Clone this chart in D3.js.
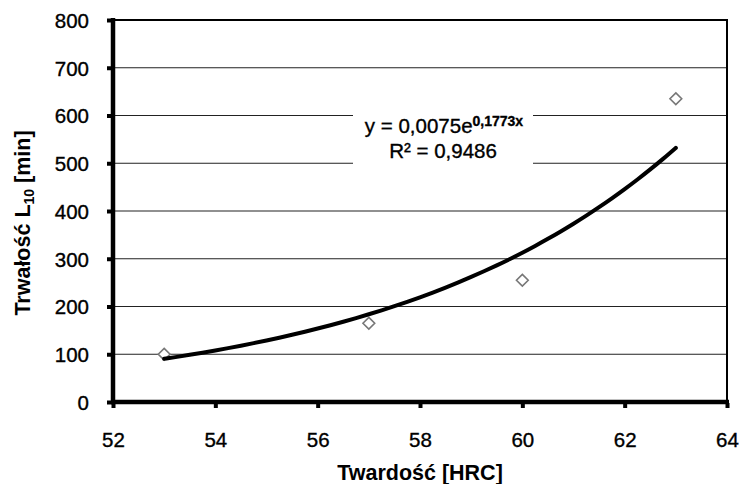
<!DOCTYPE html>
<html>
<head>
<meta charset="utf-8">
<script src="https://cdn.jsdelivr.net/npm/d3@7"></script>
<style>
  html, body { margin: 0; padding: 0; background: #fff; }
  text { font-family: "Liberation Sans", Arial, sans-serif; fill: #000; }
</style>
</head>
<body>
<div id="chart"></div>
<script>
const width = 739;
const height = 484;
const margin = { top: 20, right: 12, bottom: 82, left: 113 };

// measured points
const hardness = [53, 57, 60, 63];
const life = [100, 165, 255, 635];

// exponential trendline y = a * e^(b x)
const trendA = 0.0075;
const trendB = 0.1773;
const trendX = d3.range(53, 63.01, 0.25);

const xTicks = [52, 54, 56, 58, 60, 62, 64];
const yTicks = [0, 100, 200, 300, 400, 500, 600, 700, 800];

const labelSize = 20.5;

const x = d3.scaleLinear()
  .domain([52, 64])
  .range([margin.left, width - margin.right]);

const y = d3.scaleLinear()
  .domain([0, 800])
  .range([height - margin.bottom, margin.top]);

const svg = d3.select('#chart').append('svg')
  .attr('width', width)
  .attr('height', height);

// gridlines
svg.append('g')
  .selectAll('line')
  .data(yTicks.filter(d => d > 0 && d < 800))
  .enter()
  .append('line')
  .attr('x1', x(52))
  .attr('x2', x(64))
  .attr('y1', d => y(d))
  .attr('y2', d => y(d))
  .attr('stroke', '#222')
  .attr('stroke-width', 1.2);

// top and right border
svg.append('path')
  .attr('fill', 'none')
  .attr('stroke', '#000')
  .attr('stroke-width', 2)
  .attr('d', `M${x(52)},${y(800)}H${x(64)}V${y(0)}`);

// label box (white, hides gridlines)
svg.append('rect')
  .attr('x', 353)
  .attr('y', 108)
  .attr('width', 180)
  .attr('height', 60)
  .attr('fill', '#fff');

// y axis
const yAxis = svg.append('g')
  .attr('transform', `translate(${x(52)},0)`)
  .call(d3.axisLeft(y).tickValues(yTicks).tickSize(6).tickPadding(18));
yAxis.select('.domain').remove();
yAxis.append('line')
  .attr('y1', y(800) - 2)
  .attr('y2', y(0) + 2)
  .attr('stroke', '#000')
  .attr('stroke-width', 4.5);
yAxis.selectAll('.tick line').attr('stroke-width', 4).attr('x1', -1);
yAxis.selectAll('.tick text')
  .attr('font-size', labelSize)
  .attr('font-family', '"Liberation Sans", Arial, sans-serif')
  .attr('stroke', '#000')
  .attr('stroke-width', 0.35)
  .attr('dy', '0.36em');

// x axis
const xAxis = svg.append('g')
  .attr('transform', `translate(0,${y(0)})`)
  .call(d3.axisBottom(x).tickValues(xTicks).tickSize(6).tickPadding(24));
xAxis.select('.domain').remove();
xAxis.append('line')
  .attr('x1', x(52) - 2)
  .attr('x2', x(64) + 2)
  .attr('stroke', '#000')
  .attr('stroke-width', 4.5);
xAxis.selectAll('.tick line').attr('stroke-width', 4).attr('y1', 1);
xAxis.selectAll('.tick text')
  .attr('font-size', labelSize)
  .attr('font-family', '"Liberation Sans", Arial, sans-serif')
  .attr('stroke', '#000')
  .attr('stroke-width', 0.35);

// markers
const diamond = d3.symbol().type(d3.symbolDiamond2).size(88);
svg.append('g')
  .selectAll('path')
  .data(hardness.map((h, i) => [h, life[i]]))
  .enter()
  .append('path')
  .attr('d', diamond)
  .attr('transform', d => `translate(${x(d[0])},${y(d[1])})`)
  .attr('fill', '#fff')
  .attr('stroke', '#777')
  .attr('stroke-width', 1.6);

// trendline
const line = d3.line()
  .curve(d3.curveMonotoneX)
  .x(d => x(d))
  .y(d => y(trendA * Math.exp(trendB * d)));

svg.append('path')
  .attr('fill', 'none')
  .attr('stroke', '#000')
  .attr('stroke-width', 4)
  .attr('stroke-linecap', 'round')
  .attr('d', line(trendX));

// equation
const eq = svg.append('text')
  .attr('x', 444)
  .attr('y', 133)
  .attr('text-anchor', 'middle')
  .attr('font-size', labelSize)
  .attr('stroke', '#000')
  .attr('stroke-width', 0.35);
eq.append('tspan').text('y = 0,0075e');
eq.append('tspan').attr('font-size', 14).attr('dy', -7).attr('font-weight', 'bold').text('0,1773x');

svg.append('text')
  .attr('x', 443)
  .attr('y', 158)
  .attr('text-anchor', 'middle')
  .attr('font-size', labelSize)
  .attr('stroke', '#000')
  .attr('stroke-width', 0.35)
  .text('R² = 0,9486');

// axis titles
svg.append('text')
  .attr('x', (x(52) + x(64)) / 2)
  .attr('y', 480)
  .attr('text-anchor', 'middle')
  .attr('font-size', 21.5)
  .attr('font-weight', 'bold')
  .text('Twardość [HRC]');

const yTitle = svg.append('text')
  .attr('transform', `translate(30,223) rotate(-90)`)
  .attr('text-anchor', 'middle')
  .attr('font-size', 21.5)
  .attr('font-weight', 'bold');
yTitle.append('tspan').text('Trwałość L');
yTitle.append('tspan').attr('font-size', 14).attr('dy', 4).text('10');
yTitle.append('tspan').attr('dy', -4).text(' [min]');
</script>
</body>
</html>
